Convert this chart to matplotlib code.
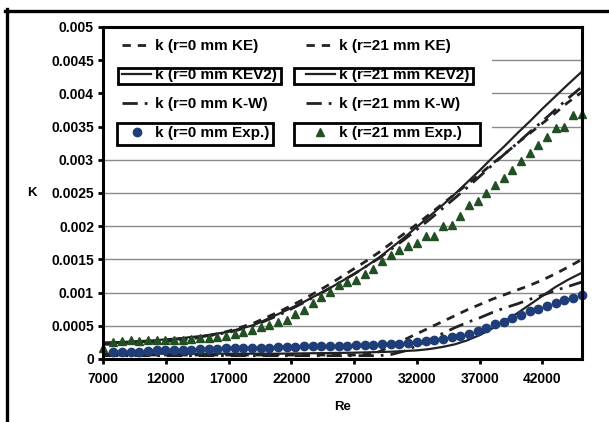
import matplotlib
matplotlib.use('Agg')
import matplotlib.pyplot as plt
from matplotlib.lines import Line2D
from matplotlib.patches import Rectangle
from matplotlib.ticker import FuncFormatter

plt.rcParams['font.family'] = ['Liberation Sans', 'DejaVu Sans']
plt.rcParams['font.weight'] = 'bold'

# Re grid of the model curves
re_model = [7000, 9000, 11000, 13000, 15000, 17000, 19000, 21000, 23000, 25000,
            27000, 28000, 29000, 30000, 31000, 32000, 33000, 34000, 35000, 36000,
            37000, 38000, 39000, 40000, 41000, 42000, 43000, 44000, 45150]

# r = 0 mm models
k0_ke = [0.00006, 0.00006, 0.00006, 0.00006, 0.00006, 0.00006, 0.00006, 0.00006, 0.00006, 0.00006,
         0.00006, 0.00007, 0.00011, 0.0002, 0.00029, 0.00038, 0.00047, 0.00056, 0.00065, 0.00074,
         0.00082, 0.0009, 0.00097, 0.00104, 0.00111, 0.00119, 0.00128, 0.00138, 0.0015]
k0_kev2 = [0.00008, 0.00008, 0.00008, 0.00008, 0.00008, 0.00008, 0.00008, 0.00008, 0.000085, 0.00009,
           0.000095, 0.0001, 0.000105, 0.00011, 0.00012, 0.00013, 0.00015, 0.00018, 0.00022, 0.00028,
           0.00036, 0.00046, 0.00057, 0.00069, 0.00082, 0.00095, 0.00108, 0.00119, 0.0013]
k0_kw = [0.00005, 0.00005, 0.00005, 0.00005, 0.00005, 0.00005, 0.00005, 0.00005, 0.00005, 0.00005,
         0.00005, 0.00005, 0.00005, 0.00007, 0.00012, 0.0002, 0.00029, 0.00038, 0.00047, 0.00055,
         0.00062, 0.0007, 0.00077, 0.00083, 0.0009, 0.00096, 0.00103, 0.00109, 0.00116]

# r = 21 mm models
k21_ke = [0.00022, 0.00023, 0.00025, 0.00028, 0.00033, 0.00042, 0.00054, 0.00071, 0.0009, 0.00112,
          0.00136, 0.00148, 0.00161, 0.00175, 0.00189, 0.00203, 0.00218, 0.00233, 0.00248, 0.00263,
          0.00278, 0.00294, 0.00309, 0.00325, 0.0034, 0.00355, 0.0037, 0.00386, 0.00402]
k21_kev2 = [0.000245, 0.00026, 0.00028, 0.00031, 0.00035, 0.00041, 0.00051, 0.00068, 0.00086, 0.00106,
            0.00128, 0.0014, 0.00153, 0.00168, 0.00183, 0.00199, 0.00215, 0.00231, 0.00248, 0.00266,
            0.00284, 0.00303, 0.00321, 0.0034, 0.00358, 0.00377, 0.00395, 0.00413, 0.00433]
k21_kw = [0.00024, 0.00025, 0.00027, 0.0003, 0.00034, 0.0004, 0.0005, 0.00066, 0.00085, 0.00106,
          0.00128, 0.0014, 0.00152, 0.00166, 0.0018, 0.00195, 0.0021, 0.00226, 0.00242, 0.00258,
          0.00275, 0.00292, 0.00309, 0.00325, 0.00342, 0.00358, 0.00375, 0.00392, 0.0041]

# experiments
re_exp = [7820, 8510, 9200, 9890, 10580, 11270, 11960, 12650, 13350, 14040,
          14730, 15420, 16110, 16800, 17490, 18180, 18870, 19560, 20250, 20940,
          21630, 22320, 23020, 23710, 24400, 25090, 25780, 26470, 27160, 27850,
          28540, 29230, 29920, 30610, 31300, 32000, 32690, 33380, 34070, 34760,
          35450, 36140, 36830, 37520, 38210, 38900, 39590, 40280, 40970, 41660,
          42360, 43050, 43740, 44430, 45120]
k0_exp = [0.000105, 0.00011, 0.00011, 0.00011, 0.00012, 0.00013, 0.00013, 0.00013, 0.00014, 0.00014,
          0.00015, 0.00015, 0.00015, 0.00016, 0.00016, 0.00016, 0.00017, 0.00017, 0.00017, 0.00018,
          0.00018, 0.00018, 0.00019, 0.00019, 0.00019, 0.0002, 0.0002, 0.0002, 0.00021, 0.00021,
          0.00021, 0.00022, 0.00023, 0.00023, 0.00024, 0.00026, 0.00027, 0.00028, 0.0003, 0.00033,
          0.00035, 0.00038, 0.00042, 0.00047, 0.00052, 0.00056, 0.00061, 0.00066, 0.00073, 0.00076,
          0.0008, 0.00084, 0.00089, 0.00092, 0.00096]
re21_exp = [7000] + re_exp
k21_exp = [0.00016,
           0.00026, 0.00027, 0.00029, 0.00027, 0.00028, 0.00029, 0.00028, 0.00029, 0.00029, 0.0003,
           0.00031, 0.00031, 0.00033, 0.00034, 0.00037, 0.0004, 0.00044, 0.00048, 0.00051, 0.00055,
           0.00059, 0.00068, 0.00074, 0.00084, 0.00094, 0.00101, 0.00112, 0.00116, 0.00119, 0.00128,
           0.00136, 0.00147, 0.00156, 0.00164, 0.0017, 0.00175, 0.00185, 0.00185, 0.002, 0.00202,
           0.00215, 0.00232, 0.00238, 0.0025, 0.00262, 0.00273, 0.00285, 0.00298, 0.0031, 0.00322,
           0.00335, 0.00348, 0.0035, 0.00368, 0.00369]

x_ticks = [7000, 12000, 17000, 22000, 27000, 32000, 37000, 42000]
y_ticks = [0, 0.0005, 0.001, 0.0015, 0.002, 0.0025, 0.003, 0.0035, 0.004, 0.0045, 0.005]

ke_style = (0, (3, 2.5))
kw_style = (0, (5.5, 2.5, 1, 2.5))
blue = '#1f3d78'
green = '#234f24'

fig = plt.figure(figsize=(6.09, 4.22), dpi=100)
ax = fig.add_axes([103 / 609, 1 - 359 / 422, 479 / 609, 332 / 422])

ax.plot(re_model, k0_ke, color='#222222', lw=2, ls=ke_style, label='k (r=0 mm KE)')
ax.plot(re_model, k0_kev2, color='#222222', lw=1.6, label='k (r=0 mm KEV2)')
ax.plot(re_model, k0_kw, color='#222222', lw=2, ls=kw_style, label='k (r=0 mm K-W)')
ax.plot(re_exp, k0_exp, 'o', color=blue, ms=6, clip_on=False, label='k (r=0 mm Exp.)')
ax.plot(re_model, k21_ke, color='#222222', lw=2, ls=ke_style, label='k (r=21 mm KE)')
ax.plot(re_model, k21_kev2, color='#222222', lw=1.6, label='k (r=21 mm KEV2)')
ax.plot(re_model, k21_kw, color='#222222', lw=2, ls=kw_style, label='k (r=21 mm K-W)')
ax.plot(re21_exp, k21_exp, '^', color=green, ms=6, clip_on=False, label='k (r=21 mm Exp.)')

ax.set_xlim(7000, 45150)
ax.set_ylim(0, 0.005)
ax.set_xticks(x_ticks)
ax.set_yticks(y_ticks)
ax.yaxis.set_major_formatter(FuncFormatter(lambda v, p: '%g' % v))
ax.yaxis.grid(True, color='#8a8a8a', lw=1)
ax.set_axisbelow(True)
for s in ax.spines.values():
    s.set_linewidth(2.2)
ax.tick_params(direction='out', length=3.5, width=2, labelsize=10)
ax.tick_params(axis='x', pad=6)
ax.tick_params(axis='y', pad=3)

ax.set_xlabel('Re', fontsize=9.5, fontweight='bold')
ax.xaxis.set_label_coords(0.5, -0.145)
ax.xaxis.label.set_va('center')
ax.set_ylabel('K', fontsize=9.5, fontweight='bold', rotation=0, ha='center', va='center')
ax.yaxis.set_label_coords(-0.148, 0.5)

# white area behind the legend hides the gridlines there
ax.add_patch(Rectangle((0, 0.63), 0.812, 0.37, transform=ax.transAxes,
                       facecolor='white', edgecolor='none', zorder=1))

leg = ax.legend(ncol=2, loc='upper left', bbox_to_anchor=(0.04, 0.963), frameon=False,
                fontsize=11, handlelength=1.9, handletextpad=0.25, columnspacing=1.9,
                labelspacing=0.98, borderpad=0, borderaxespad=0, numpoints=1)

# boxes around some legend rows, as in the original
fig.canvas.draw()
rend = fig.canvas.get_renderer()
inv = fig.transFigure.inverted()
texts = leg.get_texts()
for idx, lpad, rpad, half in [(1, 37, 4, 8), (3, 38, 4, 11), (5, 45, 4, 8), (7, 45, 18, 11)]:
    bb = texts[idx].get_window_extent(rend)
    yc = (bb.y0 + bb.y1) / 2 - 1
    (x0, y0) = inv.transform((bb.x0 - lpad, yc - half))
    (x1, y1) = inv.transform((bb.x1 + rpad, yc + half))
    fig.add_artist(Rectangle((x0, y0), x1 - x0, y1 - y0, transform=fig.transFigure,
                             fill=False, edgecolor='black', lw=2))

# outer frame lines (top and left)
fig.add_artist(Line2D([5 / 609, 1], [1 - 10.5 / 422, 1 - 10.5 / 422], transform=fig.transFigure,
                      color='black', lw=2.4))
fig.add_artist(Line2D([7 / 609, 7 / 609], [0, 1 - 9 / 422], transform=fig.transFigure,
                      color='black', lw=2.4))

fig.savefig('out.png', dpi=100)
